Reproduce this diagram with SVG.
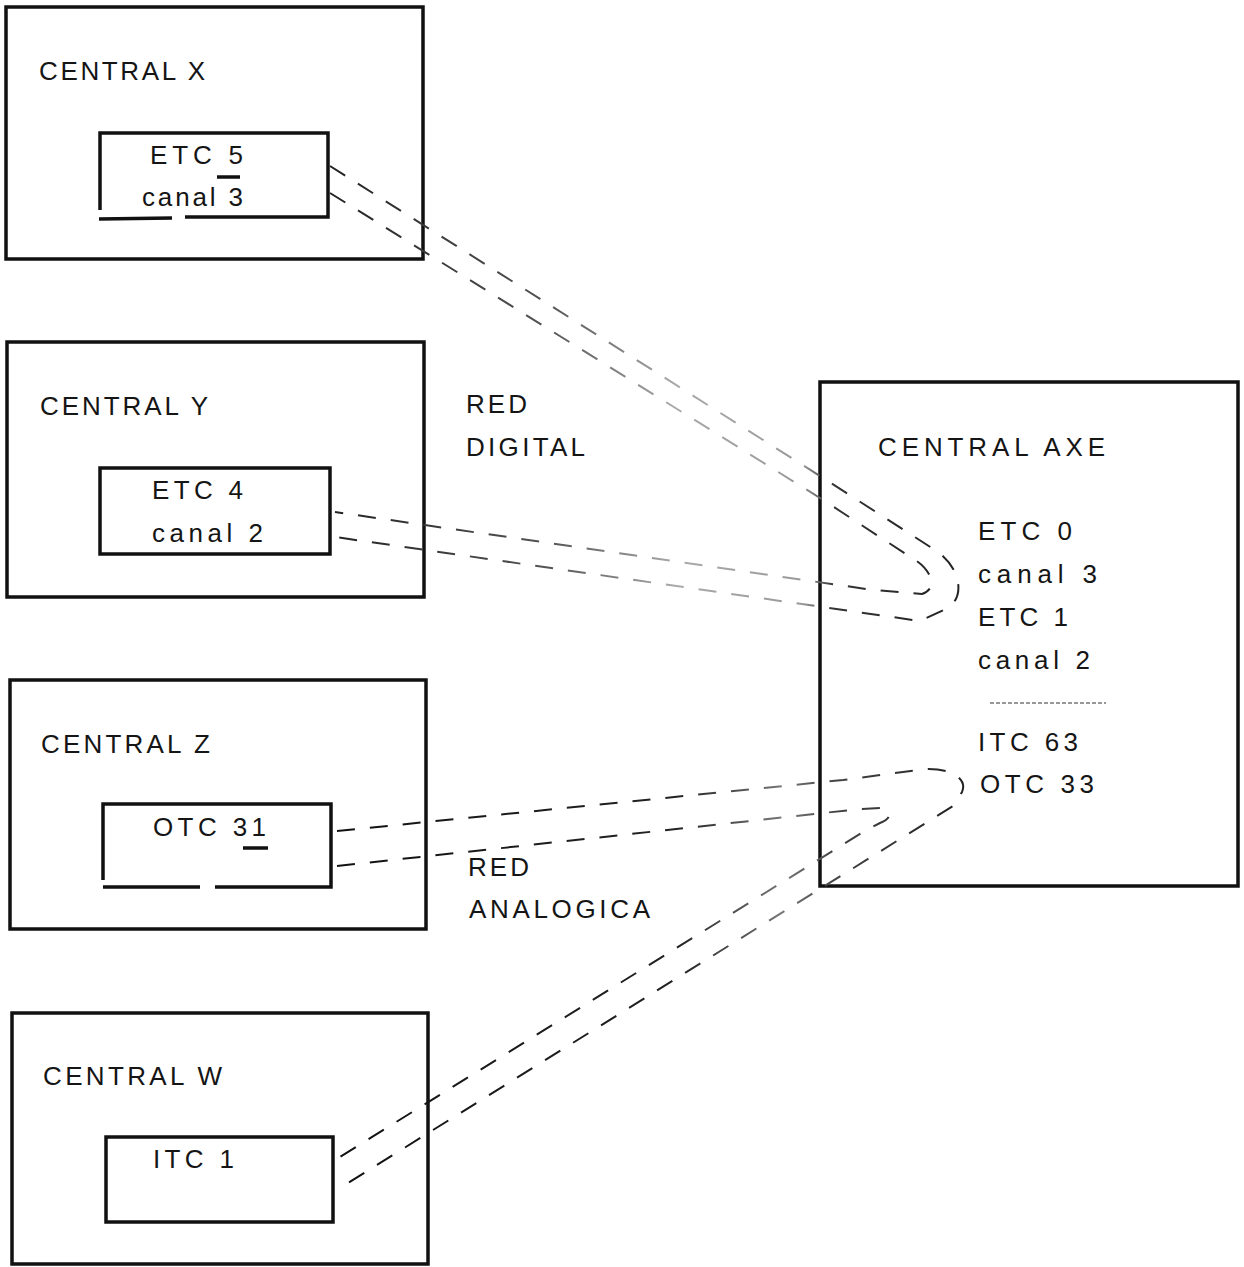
<svg xmlns="http://www.w3.org/2000/svg" width="1244" height="1267" viewBox="0 0 1244 1267">
<style>
.box{fill:none;stroke:#111;stroke-width:3.5}
.inner{fill:none;stroke:#111;stroke-width:3.5}
.t{font-family:"Liberation Sans",Arial,sans-serif;font-size:26px;fill:#151515}
.conn{fill:none;stroke-width:2;stroke-dasharray:18 15}
.ul{stroke:#111;stroke-width:3.5}
</style>
<defs>
<linearGradient id="gd" gradientUnits="userSpaceOnUse" x1="330" y1="0" x2="960" y2="0">
<stop offset="0" stop-color="#222"/>
<stop offset="0.35" stop-color="#555"/>
<stop offset="0.55" stop-color="#aaa"/>
<stop offset="0.75" stop-color="#999"/>
<stop offset="0.8" stop-color="#333"/>
<stop offset="1" stop-color="#222"/>
</linearGradient>
<linearGradient id="ga" gradientUnits="userSpaceOnUse" x1="330" y1="0" x2="960" y2="0">
<stop offset="0" stop-color="#111"/>
<stop offset="0.55" stop-color="#222"/>
<stop offset="0.72" stop-color="#777"/>
<stop offset="0.8" stop-color="#444"/>
<stop offset="1" stop-color="#222"/>
</linearGradient>
</defs>
<rect width="1244" height="1267" fill="#fff"/>

<g id="central-x">
<rect class="box" x="6" y="7" width="417" height="252"/>
<text class="t" x="39" y="80" textLength="166">CENTRAL X</text>
<path class="inner" d="M100,210 L100,133 L328,133 L328,217 L185,217 M172,218 L99,219"/>
<text class="t" x="150" y="164" textLength="93">ETC 5</text>
<line class="ul" x1="217" y1="177" x2="240" y2="177"/>
<text class="t" x="142" y="206" textLength="101">canal 3</text>
</g>

<g id="central-y">
<rect class="box" x="7" y="342" width="417" height="255"/>
<text class="t" x="40" y="415" textLength="168">CENTRAL Y</text>
<rect class="inner" x="100" y="468" width="230" height="86"/>
<text class="t" x="152" y="499" textLength="91">ETC 4</text>
<text class="t" x="152" y="542" textLength="111">canal 2</text>
</g>

<g id="red-digital">
<text class="t" x="466" y="413" textLength="61">RED</text>
<text class="t" x="466" y="456" textLength="119">DIGITAL</text>
</g>

<g id="central-z">
<rect class="box" x="10" y="680" width="416" height="249"/>
<text class="t" x="41" y="753" textLength="169">CENTRAL Z</text>
<path class="inner" d="M103,880 L103,804 L331,804 L331,887 L215,887 M200,887 L103,887"/>
<text class="t" x="153" y="836" textLength="113">OTC 31</text>
<line class="ul" x1="243" y1="848" x2="268" y2="848"/>
</g>

<g id="red-analogica">
<text class="t" x="468" y="876" textLength="61">RED</text>
<text class="t" x="469" y="918" textLength="181">ANALOGICA</text>
</g>

<g id="central-w">
<rect class="box" x="12" y="1013" width="416" height="251"/>
<text class="t" x="43" y="1085" textLength="179">CENTRAL W</text>
<rect class="inner" x="106" y="1137" width="227" height="85"/>
<text class="t" x="153" y="1168" textLength="81">ITC 1</text>
</g>

<g id="central-axe">
<rect class="box" x="820" y="382" width="418" height="504"/>
<text class="t" x="878" y="456" textLength="227">CENTRAL AXE</text>
<text class="t" x="978" y="540" textLength="94">ETC 0</text>
<text class="t" x="978" y="583" textLength="119">canal 3</text>
<text class="t" x="978" y="626" textLength="90">ETC 1</text>
<text class="t" x="978" y="669" textLength="112">canal 2</text>
<line x1="990" y1="703" x2="1106" y2="703" stroke="#777" stroke-width="1.5" stroke-dasharray="4 2"/>
<text class="t" x="978" y="751" textLength="100">ITC 63</text>
<text class="t" x="980" y="793" textLength="114">OTC 33</text>
</g>

<g id="connectors">
<path class="conn" stroke="url(#gd)" d="M330,166 L820,476 L935,550 C960,566 966,596 948,608 L920,621 L335,537"/>
<path class="conn" stroke="url(#gd)" d="M330,193 L820,498 L912,558 C930,568 940,588 922,594 L873,590 L335,512"/>
<path class="conn" stroke="url(#ga)" d="M337,831 L843,780 L925,769 C950,768 968,778 962,792 L953,806 L340,1188"/>
<path class="conn" stroke="url(#ga)" d="M337,866 L860,809 L880,808 C892,810 893,818 880,823 L868,829 L335,1160"/>
</g>
</svg>
